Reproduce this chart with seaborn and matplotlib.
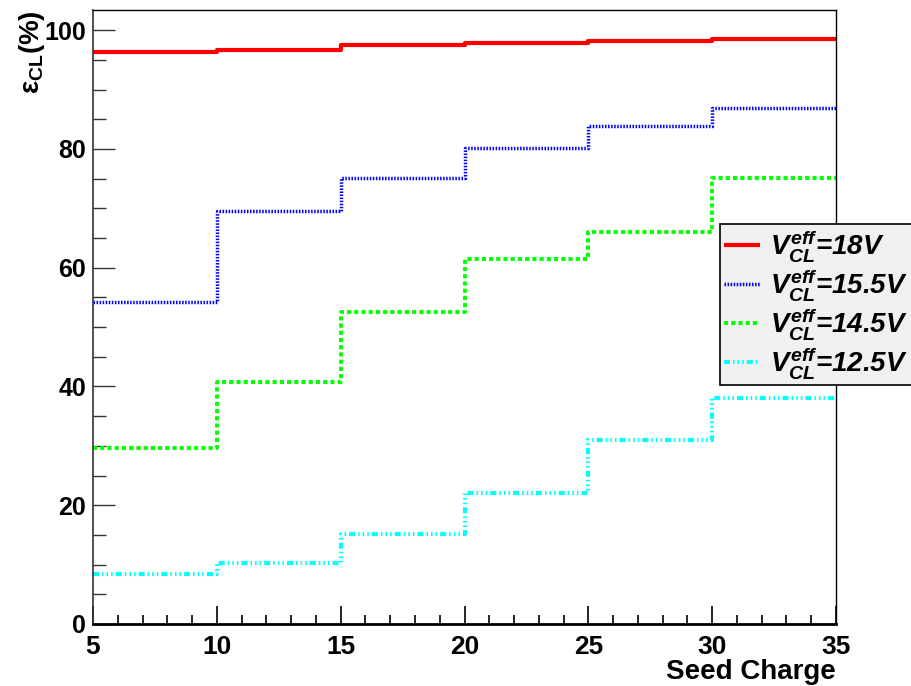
import matplotlib
matplotlib.use("Agg")
import matplotlib.pyplot as plt
import seaborn as sns
import pandas as pd
from matplotlib.ticker import MultipleLocator

# ---- data ----
bin_edges = [5, 10, 15, 20, 25, 30, 35]
eff_18 = [96.3, 96.7, 97.5, 97.9, 98.1, 98.5]
eff_15p5 = [54.2, 69.5, 75.1, 80.1, 83.8, 86.9]
eff_14p5 = [29.7, 40.7, 52.5, 61.4, 66.0, 75.1]
eff_12p5 = [8.4, 10.3, 15.2, 22.0, 31.0, 38.0]
labels = [r"$V^{eff}_{CL}$=18V", r"$V^{eff}_{CL}$=15.5V",
          r"$V^{eff}_{CL}$=14.5V", r"$V^{eff}_{CL}$=12.5V"]
x_label = "Seed Charge"
y_label = r"ε$_{\mathrm{CL}}$(%)"

sns.set_style("white")
plt.rcParams["font.family"] = ["Liberation Sans", "DejaVu Sans"]
plt.rcParams["mathtext.fontset"] = "custom"
plt.rcParams["mathtext.it"] = "Liberation Sans:italic:bold"
plt.rcParams["mathtext.rm"] = "Liberation Sans:bold"
plt.rcParams["mathtext.bf"] = "Liberation Sans:bold"
plt.rcParams["lines.scale_dashes"] = False

fig = plt.figure(figsize=(9.12, 6.86), dpi=100)
ax = fig.add_axes([0.102, 0.0904, 0.8147, 0.895])

series = [eff_18, eff_15p5, eff_14p5, eff_12p5]
colors = ["#ff0000", "#0000ff", "#00ff00", "#00ffff"]
styles = ["-", (0, (1.1, 1.1)), (0, (3.0, 2.2)),
          (0, (4.3, 2.2, 1.1, 2.2, 1.1, 2.2, 1.1, 2.2))]
widths = [3.0, 2.5, 2.8, 3.0]

for vals, lab, col, ls, lw in zip(series, labels, colors, styles, widths):
    df = pd.DataFrame({"x": bin_edges, "y": list(vals) + [vals[-1]]})
    sns.lineplot(data=df, x="x", y="y", ax=ax, color=col, linestyle=ls,
                 linewidth=lw, drawstyle="steps-post", label=lab,
                 solid_capstyle="butt", dash_capstyle="butt")

ax.set_xlim(5, 35)
ax.set_ylim(0, 103.4)
ax.xaxis.set_major_locator(MultipleLocator(5))
ax.xaxis.set_minor_locator(MultipleLocator(1))
ax.yaxis.set_major_locator(MultipleLocator(20))
ax.yaxis.set_minor_locator(MultipleLocator(5))

ax.tick_params(which="both", bottom=True, left=True, top=False, right=False)
ax.tick_params(axis="x", which="major", direction="in", length=13, width=1.2,
               labelsize=19, pad=8, color="black")
ax.tick_params(axis="x", which="minor", direction="in", length=6.5, width=1.2,
               color="black")
ax.tick_params(axis="y", which="major", direction="in", length=16, width=1.0,
               labelsize=18, pad=5, color="#333333")
ax.tick_params(axis="y", which="minor", direction="in", length=9, width=1.0,
               color="#333333")
for lbl in ax.get_xticklabels() + ax.get_yticklabels():
    lbl.set_fontweight("bold")
    lbl.set_color("black")

for side in ["top", "right"]:
    ax.spines[side].set_visible(True)
    ax.spines[side].set_linewidth(1.0)
    ax.spines[side].set_color("black")
ax.spines["left"].set_linewidth(1.2)
ax.spines["left"].set_color("#333333")
ax.spines["bottom"].set_linewidth(2.0)
ax.spines["bottom"].set_color("black")

ax.set_xlabel(x_label, fontsize=20, fontweight="bold", loc="right", labelpad=0,
              color="black")
ax.set_ylabel(y_label, fontsize=20, fontweight="bold", loc="top",
              color="black")
ax.yaxis.set_label_coords(-0.062, 1.0)

leg = ax.legend(loc="upper left", bbox_to_anchor=(0.844, 0.651),
                prop={"size": 20, "weight": "bold", "style": "italic"},
                frameon=True, fancybox=False, handlelength=1.3,
                handletextpad=0.35, labelspacing=0.1, borderpad=0.15,
                borderaxespad=0)
leg.get_frame().set_facecolor("#f0f0f0")
leg.get_frame().set_edgecolor("black")
leg.get_frame().set_linewidth(1.2)
leg.get_frame().set_alpha(1.0)
for t in leg.get_texts():
    t.set_color("black")

fig.savefig("out.png", dpi=100)
